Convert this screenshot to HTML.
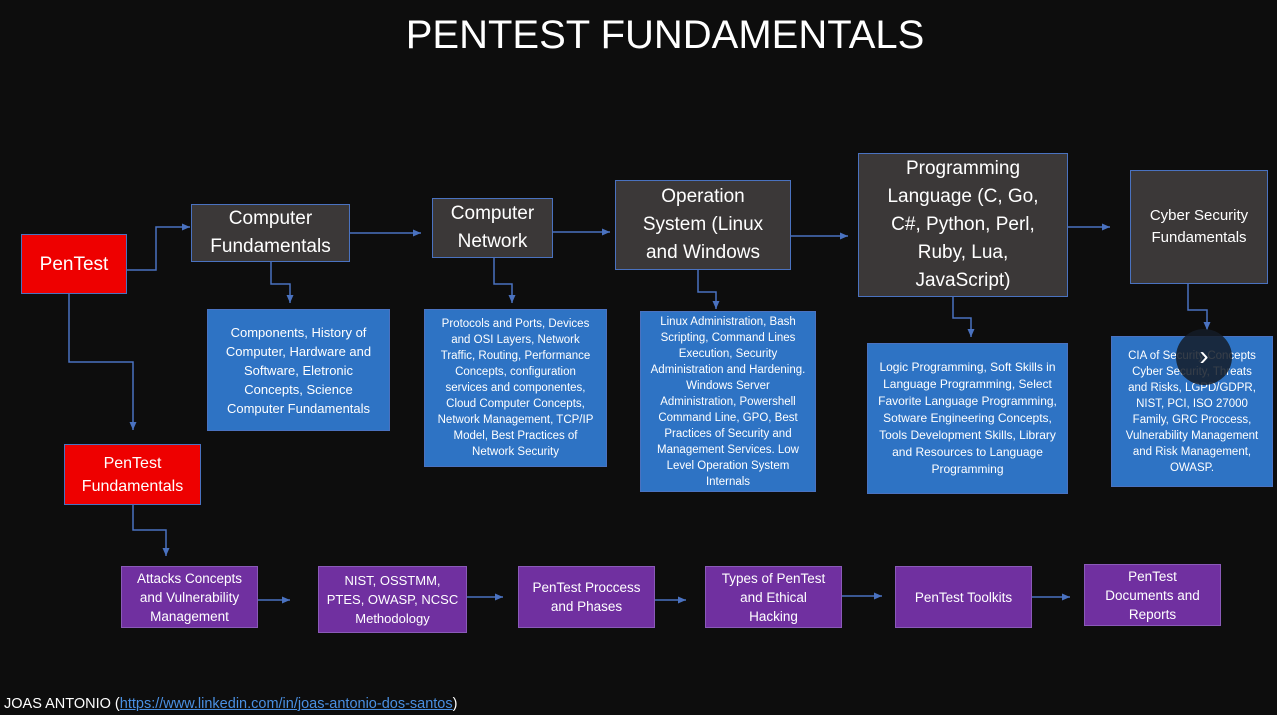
<!DOCTYPE html>
<html><head><meta charset="utf-8"><style>
body{margin:0;width:1277px;height:715px;background:#0d0d0d;position:relative;overflow:hidden;font-family:"Liberation Sans",sans-serif;color:#fff}
.b{position:absolute;box-sizing:border-box;display:flex;align-items:center;justify-content:center;text-align:center;border:1px solid #4a72c0}
.g{background:#3b3838;font-size:19px;line-height:28px}
.r{background:#ee0000;font-size:19px;line-height:23px}
.bl{background:#2e73c4;font-size:11.5px;line-height:16px;padding:0 8px}
.p{background:#7030a0;font-size:13.5px;line-height:19px;border-color:#8a5ab8;padding:0 10px}
</style></head><body>
<div style="position:absolute;left:0;width:1330px;top:13px;text-align:center;font-size:40px">PENTEST FUNDAMENTALS</div>
<svg width="1277" height="715" style="position:absolute;left:0;top:0">
<defs><marker id="a" markerUnits="userSpaceOnUse" markerWidth="9" markerHeight="9" refX="8" refY="4.5" orient="auto"><path d="M0,1L8,4.5L0,8z" fill="#4a72c0"/></marker></defs>
<g stroke="#4a72c0" stroke-width="1.5" fill="none" marker-end="url(#a)">
<path d="M127,270H156V227H190"/>
<path d="M350,233H421"/>
<path d="M553,232H610"/>
<path d="M791,236H848"/>
<path d="M1068,227H1110"/>
<path d="M271,262V284H290V303"/>
<path d="M494,258V284H512V303"/>
<path d="M698,270V292H716V309"/>
<path d="M953,297V318H971V337"/>
<path d="M1188,284V310H1207V330"/>
<path d="M69,294V362H133V430"/>
<path d="M133,505V530H166V556"/>
<path d="M258,600H290"/>
<path d="M467,597H503"/>
<path d="M655,600H686"/>
<path d="M842,596H882"/>
<path d="M1032,597H1070"/>
</g></svg>
<div class="b r" style="left:21px;top:234px;width:106px;height:60px">PenTest</div>
<div class="b g" style="left:191px;top:204px;width:159px;height:58px">Computer<br>Fundamentals</div>
<div class="b g" style="left:432px;top:198px;width:121px;height:60px">Computer<br>Network</div>
<div class="b g" style="left:615px;top:180px;width:176px;height:90px">Operation<br>System (Linux<br>and Windows</div>
<div class="b g" style="left:858px;top:153px;width:210px;height:144px">Programming<br>Language (C, Go,<br>C#, Python, Perl,<br>Ruby, Lua,<br>JavaScript)</div>
<div class="b g" style="left:1130px;top:170px;width:138px;height:114px;font-size:15px;line-height:22px">Cyber Security<br>Fundamentals</div>
<div class="b bl" style="left:207px;top:309px;width:183px;height:122px;font-size:13px;line-height:19px;padding:0 12px">Components, History of Computer, Hardware and Software, Eletronic Concepts, Science Computer Fundamentals</div>
<div class="b bl" style="left:424px;top:309px;width:183px;height:158px">Protocols and Ports, Devices and OSI Layers, Network Traffic, Routing, Performance Concepts, configuration services and componentes, Cloud Computer Concepts, Network Management, TCP/IP Model, Best Practices of Network Security</div>
<div class="b bl" style="left:640px;top:311px;width:176px;height:181px">Linux Administration, Bash Scripting, Command Lines Execution, Security Administration and Hardening. Windows Server Administration, Powershell Command Line, GPO, Best Practices of Security and Management Services. Low Level Operation System Internals</div>
<div class="b bl" style="left:867px;top:343px;width:201px;height:151px;font-size:12px;line-height:17px;padding:0 10px">Logic Programming, Soft Skills in Language Programming, Select Favorite Language Programming, Sotware Engineering Concepts, Tools Development Skills, Library and Resources to Language Programming</div>
<div class="b bl" style="left:1111px;top:336px;width:162px;height:151px;font-size:11.5px;padding:0 10px">CIA of Security Concepts Cyber Security, Threats and Risks, LGPD/GDPR, NIST, PCI, ISO 27000 Family, GRC Proccess, Vulnerability Management and Risk Management, OWASP.</div>
<div style="position:absolute;left:1176px;top:329px;width:56px;height:56px;border-radius:50%;background:rgba(20,28,40,0.85);color:#fff;font-size:28px;line-height:54px;text-align:center">›</div>
<div class="b r" style="left:64px;top:444px;width:137px;height:61px;font-size:16px;line-height:23px">PenTest<br>Fundamentals</div>
<div class="b p" style="left:121px;top:566px;width:137px;height:62px">Attacks Concepts and Vulnerability Management</div>
<div class="b p" style="left:318px;top:566px;width:149px;height:67px;padding:0;white-space:nowrap;font-size:13px">NIST, OSSTMM,<br>PTES, OWASP, NCSC<br>Methodology</div>
<div class="b p" style="left:518px;top:566px;width:137px;height:62px">PenTest Proccess and Phases</div>
<div class="b p" style="left:705px;top:566px;width:137px;height:62px;padding:0 12px">Types of PenTest and Ethical Hacking</div>
<div class="b p" style="left:895px;top:566px;width:137px;height:62px">PenTest Toolkits</div>
<div class="b p" style="left:1084px;top:564px;width:137px;height:62px;padding:0 14px">PenTest Documents and Reports</div>
<div style="position:absolute;left:4px;top:696px;font-size:14.5px">JOAS ANTONIO (<span style="color:#4a90e2;text-decoration:underline">https://www.linkedin.com/in/joas-antonio-dos-santos</span>)</div>
</body></html>
